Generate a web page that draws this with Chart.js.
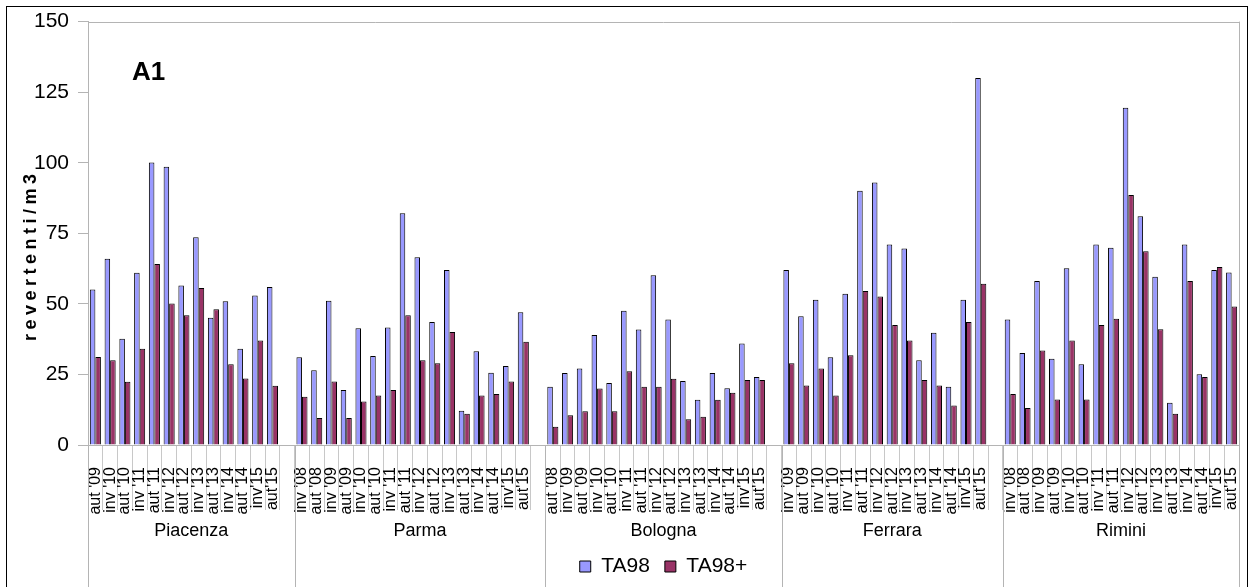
<!DOCTYPE html>
<html>
<head>
<meta charset="utf-8">
<script src="https://cdn.jsdelivr.net/npm/chart.js@4.4.1/dist/chart.umd.min.js"></script>
<style>
  html, body { margin: 0; padding: 0; background: #fff; }
  canvas { display: block; }
</style>
</head>
<body>
<canvas id="chart" width="1253" height="587"></canvas>
<script>
// Sampling sites, in plotting order
const cities = ['Piacenza', 'Parma', 'Bologna', 'Ferrara', 'Rimini'];

// Piacenza
const piacenzaPeriods = ["aut '09", "inv '10", "aut '10", "inv '11", "aut '11", "inv '12", "aut '12", "inv '13", "aut '13", "inv '14", "aut '14", "inv'15", "aut'15"];
const piacenzaTA98     = [55.1, 66.0, 37.6, 61.0, 100.1, 98.6, 56.5, 73.6, 45.1, 50.9, 34.1, 53.0, 56.0];
const piacenzaTA98plus = [31.2, 30.0, 22.4, 34.1, 64.1, 50.1, 46.0, 55.6, 48.1, 28.6, 23.6, 37.0, 21.0];

// Parma
const parmaPeriods = ["inv '08", "aut '08", "inv '09", "aut '09", "inv '10", "aut '10", "inv '11", "aut '11", "inv '12", "aut '12", "inv '13", "aut '13", "inv '14", "aut '14", "inv'15", "aut'15"];
const parmaTA98     = [31.1, 26.5, 51.1, 19.5, 41.4, 31.5, 41.6, 82.1, 66.5, 43.6, 62.0, 12.1, 33.2, 25.6, 28.0, 47.0];
const parmaTA98plus = [17.1, 9.6, 22.5, 9.6, 15.4, 17.5, 19.5, 46.0, 30.0, 29.0, 40.0, 11.1, 17.5, 18.1, 22.5, 36.6];

// Bologna
const bolognaPeriods = ["aut '08", "inv '09", "aut '09", "inv '10", "aut '10", "inv '11", "aut '11", "inv '12", "aut '12", "inv '13", "aut '13", "inv '14", "aut '14", "inv'15", "aut'15"];
const bolognaTA98     = [20.6, 25.5, 27.1, 39.0, 22.0, 47.6, 40.9, 60.1, 44.5, 22.7, 16.0, 25.5, 20.1, 36.0, 24.1];
const bolognaTA98plus = [6.5, 10.5, 12.0, 20.0, 12.0, 26.1, 20.6, 20.6, 23.5, 9.1, 10.0, 16.0, 18.5, 23.0, 23.0];

// Ferrara
const ferraraPeriods = ["inv '09", "aut '09", "inv '10", "aut '10", "inv '11", "aut '11", "inv '12", "aut '12", "inv '13", "aut '13", "inv '14", "aut '14", "inv'15", "aut'15"];
const ferraraTA98     = [62.0, 45.6, 51.5, 31.1, 53.6, 90.1, 93.0, 71.0, 69.6, 30.0, 39.8, 20.6, 51.5, 130.0];
const ferraraTA98plus = [29.0, 21.1, 27.1, 17.5, 31.8, 54.6, 52.6, 42.5, 37.0, 23.0, 21.1, 14.0, 43.6, 57.1];

// Rimini
const riminiPeriods = ["inv '08", "aut '08", "inv '09", "aut '09", "inv '10", "aut '10", "inv '11", "aut '11", "inv '12", "aut '12", "inv '13", "aut '13", "inv '14", "aut '14", "inv'15", "aut'15"];
const riminiTA98     = [44.5, 32.6, 58.1, 30.6, 62.6, 28.6, 71.0, 69.9, 119.5, 81.0, 59.6, 15.0, 71.0, 25.1, 62.0, 61.1];
const riminiTA98plus = [18.1, 13.1, 33.5, 16.1, 37.0, 16.1, 42.5, 44.7, 88.6, 68.6, 41.0, 11.1, 58.1, 24.1, 63.1, 49.1];

// Y axis ticks
const yTicks = [0, 25, 50, 75, 100, 125, 150];

const periodLists = [piacenzaPeriods, parmaPeriods, bolognaPeriods, ferraraPeriods, riminiPeriods];
const ta98Lists = [piacenzaTA98, parmaTA98, bolognaTA98, ferraraTA98, riminiTA98];
const ta98PlusLists = [piacenzaTA98plus, parmaTA98plus, bolognaTA98plus, ferraraTA98plus, riminiTA98plus];

// Flatten into one category axis; an empty slot closes every site block but the last
const labels = [], ta98 = [], ta98plus = [], groupSpans = [];
periodLists.forEach((periods, i) => {
  const start = labels.length;
  periods.forEach((p, j) => {
    labels.push(p);
    ta98.push(ta98Lists[i][j]);
    ta98plus.push(ta98PlusLists[i][j]);
  });
  if (i < periodLists.length - 1) {
    labels.push('');
    ta98.push(null);
    ta98plus.push(null);
  }
  groupSpans.push({ name: cities[i], first: start, last: labels.length - 1 });
});

const FONT = "'Liberation Sans', Arial, Helvetica, sans-serif";
const AXIS_GREY = '#b4b4b4';

// Frame, plot border, site names and separators, panel tag and y title
const decorations = {
  id: 'decorations',
  beforeDraw(chart) {
    const ctx = chart.ctx;
    ctx.save();
    ctx.fillStyle = '#fff';
    ctx.fillRect(0, 0, chart.width, chart.height);
    ctx.restore();
  },
  afterDraw(chart) {
    const ctx = chart.ctx;
    const area = chart.chartArea;
    const xs = chart.scales.x;
    const slot = xs.getPixelForValue(1) - xs.getPixelForValue(0);

    ctx.save();
    // outer frame
    ctx.strokeStyle = '#000';
    ctx.lineWidth = 1;
    ctx.strokeRect(6.5, 6.5, chart.width - 12, chart.height + 20);

    // plot area top and right edges
    ctx.strokeStyle = AXIS_GREY;
    ctx.beginPath();
    ctx.moveTo(area.left, Math.round(area.top) + 0.5);
    ctx.lineTo(area.right, Math.round(area.top) + 0.5);
    ctx.moveTo(Math.round(area.right) + 0.5, area.top);
    ctx.lineTo(Math.round(area.right) + 0.5, area.bottom);
    ctx.stroke();

    // site separators and names
    ctx.fillStyle = '#000';
    ctx.font = '18px ' + FONT;
    ctx.textAlign = 'center';
    ctx.textBaseline = 'middle';
    groupSpans.forEach(g => {
      const x0 = xs.getPixelForValue(g.first) - slot / 2;
      const x1 = xs.getPixelForValue(g.last) + slot / 2;
      ctx.beginPath();
      [x0, x1].forEach(x => {
        ctx.moveTo(Math.round(x) + 0.5, area.bottom);
        ctx.lineTo(Math.round(x) + 0.5, chart.height);
      });
      ctx.stroke();
      ctx.fillText(g.name, (x0 + x1) / 2, area.bottom + 86);
    });

    // panel tag
    ctx.font = 'bold 26px ' + FONT;
    ctx.textAlign = 'left';
    ctx.textBaseline = 'alphabetic';
    ctx.fillText('A1', 132, 80);

    // y axis title
    ctx.translate(31, (area.top + area.bottom) / 2 + 22);
    ctx.rotate(-Math.PI / 2);
    ctx.font = 'bold 18px ' + FONT;
    ctx.letterSpacing = '4.5px';
    ctx.textAlign = 'center';
    ctx.textBaseline = 'middle';
    ctx.fillText('revertenti/m3', 0, 0);
    ctx.restore();
  }
};

new Chart(document.getElementById('chart'), {
  type: 'bar',
  data: {
    labels: labels,
    datasets: [
      {
        label: 'TA98',
        data: ta98,
        backgroundColor: '#9999ff',
        borderColor: '#000',
        borderWidth: 1,
        categoryPercentage: 0.75,
        barPercentage: 1.0
      },
      {
        label: 'TA98+',
        data: ta98plus,
        backgroundColor: '#993366',
        borderColor: '#000',
        borderWidth: 1,
        categoryPercentage: 0.75,
        barPercentage: 1.0
      }
    ]
  },
  options: {
    responsive: false,
    animation: false,
    devicePixelRatio: 1,
    layout: { padding: { top: 12, right: 14, left: 0, bottom: 0 } },
    plugins: {
      tooltip: { enabled: false },
      legend: {
        position: 'bottom',
        fullSize: false,
        align: 'center',
        labels: {
          boxWidth: 11,
          boxHeight: 11,
          padding: 15,
          color: '#000',
          font: { family: FONT, size: 21 }
        }
      }
    },
    scales: {
      x: {
        offset: true,
        grid: {
          offset: true,
          drawOnChartArea: false,
          drawTicks: true,
          tickLength: 65,
          color: '#c8c8c8'
        },
        border: { color: AXIS_GREY },
        ticks: {
          autoSkip: false,
          maxRotation: 90,
          minRotation: 90,
          padding: -43,
          color: '#000',
          font: { family: FONT, size: 16 }
        },
        afterFit(scale) { scale.height = 96; }
      },
      y: {
        min: 0,
        max: 150,
        afterBuildTicks(scale) { scale.ticks = yTicks.map(v => ({ value: v })); },
        grid: {
          drawOnChartArea: false,
          tickLength: 10,
          color: AXIS_GREY
        },
        border: { color: AXIS_GREY },
        ticks: {
          padding: 9,
          color: '#000',
          font: { family: FONT, size: 21 }
        },
        afterFit(scale) { scale.width = 88; }
      }
    }
  },
  plugins: [decorations]
});
</script>
</body>
</html>
